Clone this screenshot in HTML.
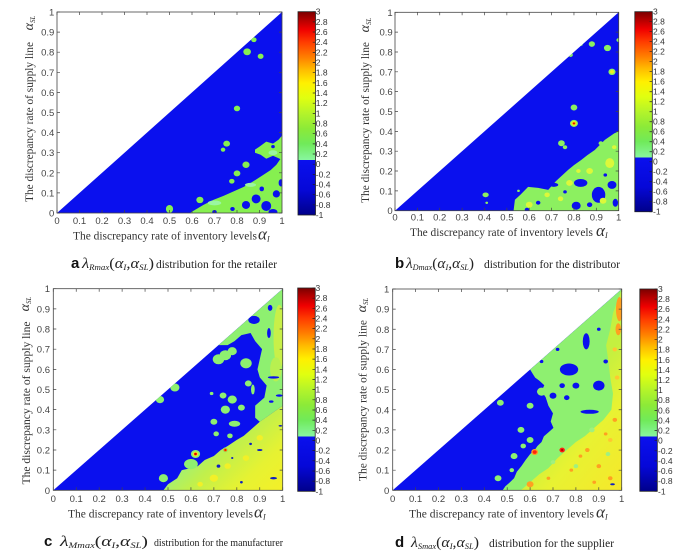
<!DOCTYPE html>
<html><head><meta charset="utf-8"><style>
html,body{margin:0;padding:0;background:#fff;width:692px;height:556px;overflow:hidden}
svg{display:block}
</style></head><body>
<svg width="692" height="556" viewBox="0 0 692 556" xmlns="http://www.w3.org/2000/svg" xmlns:xlink="http://www.w3.org/1999/xlink">
<defs>
<clipPath id="tri"><polygon points="0,0 1000,0 1000,1000"/></clipPath>
<linearGradient id="cb" x1="0" y1="0" x2="0" y2="1">
<stop offset="0" stop-color="#7a0000"/><stop offset="0.0375" stop-color="#b00000"/><stop offset="0.0875" stop-color="#f00000"/>
<stop offset="0.15" stop-color="#ff3c00"/><stop offset="0.225" stop-color="#ff8000"/><stop offset="0.2875" stop-color="#ffbe00"/>
<stop offset="0.35" stop-color="#fff000"/><stop offset="0.425" stop-color="#e0ff10"/><stop offset="0.5" stop-color="#b4f42a"/>
<stop offset="0.575" stop-color="#8cea38"/><stop offset="0.65" stop-color="#70ea5a"/><stop offset="0.73" stop-color="#88f6a0"/>
<stop offset="0.73" stop-color="#0a10ee"/><stop offset="0.875" stop-color="#0608d8"/><stop offset="1" stop-color="#00008a"/>
</linearGradient>
<linearGradient id="gc" gradientUnits="userSpaceOnUse" x1="680" y1="300" x2="1000" y2="0">
<stop offset="0" stop-color="#98f080"/><stop offset="0.3" stop-color="#c0f04c"/><stop offset="0.65" stop-color="#e6f232"/><stop offset="1" stop-color="#f4f028"/>
</linearGradient>
<linearGradient id="gd" gradientUnits="userSpaceOnUse" x1="640" y1="260" x2="1000" y2="0">
<stop offset="0" stop-color="#c4f040"/><stop offset="0.4" stop-color="#e8f232"/><stop offset="1" stop-color="#f6e82a"/>
</linearGradient>
<g id="cbar">
<rect x="0" y="0" width="17.5" height="203.3" fill="url(#cb)" stroke="#222" stroke-width="0.8"/>
<line x1="16" y1="-0.35" x2="16" y2="204" stroke="#222" stroke-width="2.5" stroke-dasharray="0.7 9.465"/>
</g>
<g id="cbl" font-family="Liberation Sans, sans-serif" font-size="8.5" fill="#333">
<text x="0" y="3">3<tspan x="0" dy="10.165">2.8</tspan><tspan x="0" dy="10.165">2.6</tspan><tspan x="0" dy="10.165">2.4</tspan><tspan x="0" dy="10.165">2.2</tspan><tspan x="0" dy="10.165">2</tspan><tspan x="0" dy="10.165">1.8</tspan><tspan x="0" dy="10.165">1.6</tspan><tspan x="0" dy="10.165">1.4</tspan><tspan x="0" dy="10.165">1.2</tspan><tspan x="0" dy="10.165">1</tspan><tspan x="0" dy="10.165">0.8</tspan><tspan x="0" dy="10.165">0.6</tspan><tspan x="0" dy="10.165">0.4</tspan><tspan x="0" dy="10.165">0.2</tspan><tspan x="0" dy="10.165">0</tspan><tspan x="0" dy="10.165">-0.2</tspan><tspan x="0" dy="10.165">-0.4</tspan><tspan x="0" dy="10.165">-0.6</tspan><tspan x="0" dy="10.165">-0.8</tspan><tspan x="0" dy="10.165">-1</tspan></text>
</g>
</defs>

<!-- ============ PANEL A ============ -->
<svg x="57" y="12" width="225" height="201" viewBox="0 0 1000 1000" preserveAspectRatio="none">
<g transform="matrix(1 0 0 -1 0 1000)" clip-path="url(#tri)">
<rect width="1000" height="1000" fill="#0a10ee"/>
<g fill="#86f050">
<polygon points="590,0 620,20 650,40 695,65 740,85 780,105 830,130 870,156 910,185 950,214 975,240 990,264 1000,275 1000,0"/>
<polygon points="880,300 905,290 930,270 960,285 990,270 1000,260 1000,385 985,365 960,345 930,355 900,330 880,315"/>
</g>
<g fill="#9af6a0">
<ellipse cx="700" cy="50" rx="30" ry="12"/><ellipse cx="860" cy="140" rx="25" ry="10"/><ellipse cx="960" cy="300" rx="20" ry="12"/>
</g>
<g fill="#0a10ee">
<ellipse cx="840" cy="40" rx="18" ry="20"/><ellipse cx="885" cy="70" rx="20" ry="22"/><ellipse cx="930" cy="35" rx="22" ry="25"/><ellipse cx="975" cy="95" rx="16" ry="18"/><ellipse cx="960" cy="5" rx="20" ry="15"/><ellipse cx="995" cy="150" rx="10" ry="18"/><ellipse cx="910" cy="120" rx="10" ry="12"/><circle cx="780" cy="20" r="10"/><circle cx="700" cy="5" r="10"/><circle cx="960" cy="330" r="8"/>
</g>
<g fill="#86f050">
<circle cx="754" cy="345" r="15"/><circle cx="738" cy="315" r="10"/><circle cx="840" cy="240" r="16"/><circle cx="800" cy="197" r="15"/><circle cx="777" cy="158" r="12"/><circle cx="635" cy="65" r="16"/><ellipse cx="500" cy="20" rx="16" ry="20"/><circle cx="800" cy="520" r="14"/><circle cx="845" cy="802" r="17"/><circle cx="905" cy="780" r="13"/><circle cx="875" cy="862" r="12"/>
</g>
</g></svg>
<rect x="57" y="12" width="225" height="201" fill="none" stroke="#444" stroke-width="0.8"/>
<g stroke="#444" fill="none">
<line x1="56.65" y1="211.5" x2="282.5" y2="211.5" stroke-width="3" stroke-dasharray="0.7 21.8"/>
<line x1="56.65" y1="13.5" x2="282.5" y2="13.5" stroke-width="3" stroke-dasharray="0.7 21.8"/>
<line x1="58.5" y1="213.35" x2="58.5" y2="11.5" stroke-width="3" stroke-dasharray="0.7 19.4"/>
<line x1="280.5" y1="213.35" x2="280.5" y2="11.5" stroke-width="3" stroke-dasharray="0.7 19.4"/>
</g>
<g font-family="Liberation Sans, sans-serif" font-size="9.5" fill="#444">
<text y="224" text-anchor="middle"><tspan x="57">0</tspan><tspan x="79.5">0.1</tspan><tspan x="102">0.2</tspan><tspan x="124.5">0.3</tspan><tspan x="147">0.4</tspan><tspan x="169.5">0.5</tspan><tspan x="192">0.6</tspan><tspan x="214.5">0.7</tspan><tspan x="237">0.8</tspan><tspan x="259.5">0.9</tspan><tspan x="282">1</tspan></text>
<text text-anchor="end"><tspan x="54.3" y="216.5">0</tspan><tspan x="54.3" y="196.4">0.1</tspan><tspan x="54.3" y="176.3">0.2</tspan><tspan x="54.3" y="156.2">0.3</tspan><tspan x="54.3" y="136.1">0.4</tspan><tspan x="54.3" y="116">0.5</tspan><tspan x="54.3" y="95.9">0.6</tspan><tspan x="54.3" y="75.8">0.7</tspan><tspan x="54.3" y="55.7">0.8</tspan><tspan x="54.3" y="35.6">0.9</tspan><tspan x="54.3" y="15.5">1</tspan></text>
</g>
<use xlink:href="#cbar" transform="translate(298,11.7)"/>
<use xlink:href="#cbl" transform="translate(315.8,11.7)"/>
<g font-family="Liberation Serif, serif" fill="#333">
<text x="73" y="239.5" font-size="11.5" textLength="184" lengthAdjust="spacingAndGlyphs">The discrepancy rate of inventory levels</text>
<text x="258" y="239.5" font-size="17" font-style="italic">α<tspan font-size="8" dy="2">I</tspan></text>
<text transform="translate(33,122) rotate(-90)" text-anchor="middle" font-size="11.5" textLength="160" lengthAdjust="spacingAndGlyphs">The discrepancy rate of supply line</text>
<text transform="translate(33,23) rotate(-90)" text-anchor="middle" font-size="14" font-style="italic">α<tspan font-size="7" dy="2">SL</tspan></text>
</g>
<text x="71" y="268" font-family="Liberation Sans, sans-serif" font-weight="bold" font-size="15" fill="#111">a</text>
<text x="82" y="268" font-family="Liberation Serif, serif" font-style="italic" font-size="15" fill="#222" textLength="72" lengthAdjust="spacingAndGlyphs">λ<tspan font-size="8" dy="2">Rmax</tspan><tspan dy="-2" font-style="normal">(</tspan>α<tspan font-size="8" dy="2">I</tspan><tspan dy="-2" font-style="normal">,</tspan>α<tspan font-size="8" dy="2">SL</tspan><tspan dy="-2" font-style="normal">)</tspan></text>
<text x="156" y="268" font-family="Liberation Serif, serif" font-size="11.5" fill="#222" textLength="121" lengthAdjust="spacingAndGlyphs">distribution for the retailer</text>

<!-- ============ PANEL B ============ -->
<svg x="395" y="12.3" width="223.7" height="198.4" viewBox="0 0 1000 1000" preserveAspectRatio="none">
<g transform="matrix(1 0 0 -1 0 1000)" clip-path="url(#tri)">
<rect width="1000" height="1000" fill="#0a10ee"/>
<polygon fill="#8cf060" points="530,0 536,55 560,80 595,120 640,115 685,105 720,150 774,206 800,230 833,256 860,280 893,306 938,357 980,390 1000,400 1000,0"/>
<g fill="#0a10ee">
<ellipse cx="830" cy="140" rx="30" ry="20"/><ellipse cx="910" cy="80" rx="30" ry="40"/><ellipse cx="970" cy="130" rx="20" ry="20"/><ellipse cx="810" cy="25" rx="20" ry="20"/><ellipse cx="710" cy="130" rx="20" ry="10"/><ellipse cx="985" cy="40" rx="12" ry="20"/><circle cx="640" cy="40" r="10"/><circle cx="870" cy="30" r="12"/><circle cx="590" cy="5" r="10"/><circle cx="760" cy="95" r="8"/><circle cx="940" cy="180" r="8"/>
</g>
<g fill="#dcf83a">
<circle cx="600" cy="30" r="15"/><circle cx="680" cy="80" r="12"/><circle cx="780" cy="140" r="15"/><circle cx="870" cy="200" r="15"/><ellipse cx="960" cy="240" rx="20" ry="25"/><circle cx="930" cy="50" r="15"/><circle cx="740" cy="60" r="12"/><circle cx="820" cy="200" r="10"/><circle cx="980" cy="320" r="10"/>
</g>
<g fill="#8cf060">
<circle cx="800" cy="520" r="15"/><circle cx="800" cy="440" r="18"/><circle cx="970" cy="700" r="16"/><circle cx="950" cy="820" r="16"/><circle cx="880" cy="840" r="14"/><circle cx="830" cy="840" r="10"/><circle cx="785" cy="785" r="10"/><circle cx="1000" cy="860" r="10"/><ellipse cx="405" cy="80" rx="14" ry="12"/><circle cx="410" cy="40" r="6"/><circle cx="744" cy="340" r="15"/><circle cx="920" cy="340" r="10"/><circle cx="552" cy="100" r="6"/><circle cx="760" cy="320" r="10"/>
</g>
<circle cx="800" cy="440" r="12" fill="#f0f020"/><circle cx="800" cy="440" r="7" fill="#ff8000"/><circle cx="800" cy="440" r="4" fill="#d00000"/>
<circle cx="970" cy="700" r="9" fill="#f0f020"/>
</g></svg>
<rect x="395" y="12.3" width="223.7" height="198.4" fill="none" stroke="#444" stroke-width="0.8"/>
<g stroke="#444" fill="none">
<line x1="394.65" y1="209.2" x2="619.2" y2="209.2" stroke-width="3" stroke-dasharray="0.7 21.67"/>
<line x1="394.65" y1="13.8" x2="619.2" y2="13.8" stroke-width="3" stroke-dasharray="0.7 21.67"/>
<line x1="396.5" y1="211.05" x2="396.5" y2="11.8" stroke-width="3" stroke-dasharray="0.7 19.14"/>
<line x1="617.2" y1="211.05" x2="617.2" y2="11.8" stroke-width="3" stroke-dasharray="0.7 19.14"/>
</g>
<g font-family="Liberation Sans, sans-serif" font-size="9.5" fill="#444">
<text y="220.5" text-anchor="middle"><tspan x="395">0</tspan><tspan x="417.4">0.1</tspan><tspan x="439.7">0.2</tspan><tspan x="462.1">0.3</tspan><tspan x="484.5">0.4</tspan><tspan x="506.9">0.5</tspan><tspan x="529.2">0.6</tspan><tspan x="551.6">0.7</tspan><tspan x="574">0.8</tspan><tspan x="596.3">0.9</tspan><tspan x="618.7">1</tspan></text>
<text text-anchor="end"><tspan x="392.7" y="214.2">0</tspan><tspan x="392.7" y="194.4">0.1</tspan><tspan x="392.7" y="174.5">0.2</tspan><tspan x="392.7" y="154.7">0.3</tspan><tspan x="392.7" y="134.8">0.4</tspan><tspan x="392.7" y="115">0.5</tspan><tspan x="392.7" y="95.2">0.6</tspan><tspan x="392.7" y="75.3">0.7</tspan><tspan x="392.7" y="55.5">0.8</tspan><tspan x="392.7" y="35.6">0.9</tspan><tspan x="392.7" y="15.8">1</tspan></text>
</g>
<use xlink:href="#cbar" transform="translate(634.8,11.7) scale(1,0.984)"/>
<use xlink:href="#cbl" transform="translate(653,11.7) scale(1,0.984)"/>
<g font-family="Liberation Serif, serif" fill="#333">
<text x="410" y="236" font-size="11.5" textLength="183" lengthAdjust="spacingAndGlyphs">The discrepancy rate of inventory levels</text>
<text x="596" y="236" font-size="17" font-style="italic">α<tspan font-size="8" dy="2">I</tspan></text>
<text transform="translate(369,122.5) rotate(-90)" text-anchor="middle" font-size="11.5" textLength="161" lengthAdjust="spacingAndGlyphs">The discrepancy rate of supply line</text>
<text transform="translate(369,25) rotate(-90)" text-anchor="middle" font-size="14" font-style="italic">α<tspan font-size="7" dy="2">SL</tspan></text>
</g>
<text x="395" y="268" font-family="Liberation Sans, sans-serif" font-weight="bold" font-size="15" fill="#111">b</text>
<text x="406" y="268" font-family="Liberation Serif, serif" font-style="italic" font-size="15" fill="#222" textLength="68" lengthAdjust="spacingAndGlyphs">λ<tspan font-size="8" dy="2">Dmax</tspan><tspan dy="-2" font-style="normal">(</tspan>α<tspan font-size="8" dy="2">I</tspan><tspan dy="-2" font-style="normal">,</tspan>α<tspan font-size="8" dy="2">SL</tspan><tspan dy="-2" font-style="normal">)</tspan></text>
<text x="484" y="268" font-family="Liberation Serif, serif" font-size="11.5" fill="#222" textLength="136" lengthAdjust="spacingAndGlyphs">distribution for the distributor</text>

<!-- ============ PANEL C ============ -->
<svg x="53.3" y="288.7" width="229.4" height="201.6" viewBox="0 0 1000 1000" preserveAspectRatio="none">
<g transform="matrix(1 0 0 -1 0 1000)" clip-path="url(#tri)">
<rect width="1000" height="1000" fill="#0a10ee"/>
<polygon fill="#8ef070" points="1000,420 950,380 900,340 880,360 880,420 920,460 930,520 900,560 890,600 900,650 910,700 880,740 860,780 820,770 790,740 760,720 720,720 1000,1000"/>
<polygon fill="url(#gc)" points="480,0 500,30 540,60 560,100 600,110 630,120 660,150 700,170 730,200 760,220 800,250 830,270 860,300 900,340 950,380 1000,420 1000,0"/>
<ellipse cx="985" cy="760" rx="25" ry="160" fill="#c8f048"/>
<ellipse cx="970" cy="600" rx="25" ry="60" fill="#b8f050"/>
<g fill="#f2f028">
<circle cx="700" cy="60" r="18"/><circle cx="760" cy="120" r="14"/><circle cx="840" cy="160" r="14"/><circle cx="900" cy="260" r="14"/><circle cx="640" cy="30" r="12"/>
</g>
<g fill="#0a10ee">
<ellipse cx="875" cy="845" rx="25" ry="20"/><ellipse cx="945" cy="905" rx="10" ry="15"/><ellipse cx="940" cy="780" rx="8" ry="25"/><ellipse cx="960" cy="560" rx="25" ry="6"/><ellipse cx="985" cy="470" rx="15" ry="6"/><ellipse cx="950" cy="440" rx="10" ry="6"/>
</g>
<g fill="#1020c0">
<circle cx="720" cy="120" r="8"/><ellipse cx="900" cy="200" rx="12" ry="5"/><ellipse cx="960" cy="60" rx="15" ry="6"/><circle cx="820" cy="40" r="6"/><circle cx="780" cy="160" r="5"/><circle cx="860" cy="230" r="6"/><ellipse cx="990" cy="320" rx="8" ry="4"/>
</g>
<g fill="#8ef070">
<circle cx="750" cy="670" r="25"/><circle cx="840" cy="630" r="25"/><circle cx="850" cy="530" r="15"/><circle cx="740" cy="470" r="15"/><circle cx="780" cy="450" r="20"/><ellipse cx="870" cy="500" rx="8" ry="25"/><circle cx="750" cy="400" r="20"/><circle cx="820" cy="410" r="15"/><ellipse cx="790" cy="330" rx="25" ry="15"/><circle cx="700" cy="340" r="15"/><circle cx="710" cy="280" r="12"/><circle cx="770" cy="270" r="12"/><circle cx="620" cy="180" r="20"/><circle cx="750" cy="200" r="12"/><ellipse cx="600" cy="130" rx="30" ry="25"/><circle cx="480" cy="60" r="20"/><circle cx="530" cy="510" r="20"/><circle cx="465" cy="450" r="18"/><circle cx="690" cy="480" r="8"/><circle cx="720" cy="650" r="25"/><circle cx="780" cy="690" r="20"/>
</g>
<circle cx="620" cy="180" r="12" fill="#f0f020"/><circle cx="620" cy="180" r="7" fill="#ff2000"/><circle cx="620" cy="180" r="3" fill="#a00000"/>
<circle cx="750" cy="200" r="8" fill="#ff8000"/><circle cx="750" cy="200" r="4" fill="#e00000"/>
</g></svg>
<rect x="53.3" y="288.7" width="229.4" height="201.6" fill="none" stroke="#444" stroke-width="0.8"/>
<g stroke="#444" fill="none">
<line x1="52.95" y1="488.8" x2="283.2" y2="488.8" stroke-width="3" stroke-dasharray="0.7 22.24"/>
<line x1="52.95" y1="290.2" x2="283.2" y2="290.2" stroke-width="3" stroke-dasharray="0.7 22.24"/>
<line x1="54.8" y1="490.65" x2="54.8" y2="288.2" stroke-width="3" stroke-dasharray="0.7 19.46"/>
<line x1="281.2" y1="490.65" x2="281.2" y2="288.2" stroke-width="3" stroke-dasharray="0.7 19.46"/>
</g>
<g font-family="Liberation Sans, sans-serif" font-size="9.5" fill="#444">
<text y="502" text-anchor="middle"><tspan x="53.3">0</tspan><tspan x="76.2">0.1</tspan><tspan x="99.2">0.2</tspan><tspan x="122.1">0.3</tspan><tspan x="145.1">0.4</tspan><tspan x="168">0.5</tspan><tspan x="191">0.6</tspan><tspan x="213.9">0.7</tspan><tspan x="236.8">0.8</tspan><tspan x="259.8">0.9</tspan><tspan x="282.7">1</tspan></text>
<text text-anchor="end"><tspan x="50" y="493.8">0</tspan><tspan x="50" y="473.6">0.1</tspan><tspan x="50" y="453.5">0.2</tspan><tspan x="50" y="433.3">0.3</tspan><tspan x="50" y="413.2">0.4</tspan><tspan x="50" y="393">0.5</tspan><tspan x="50" y="372.8">0.6</tspan><tspan x="50" y="352.7">0.7</tspan><tspan x="50" y="332.5">0.8</tspan><tspan x="50" y="312.4">0.9</tspan><tspan x="50" y="292.2">1</tspan></text>
</g>
<use xlink:href="#cbar" transform="translate(297.7,288)"/>
<use xlink:href="#cbl" transform="translate(315.5,288)"/>
<g font-family="Liberation Serif, serif" fill="#333">
<text x="68" y="517.5" font-size="11.5" textLength="185" lengthAdjust="spacingAndGlyphs">The discrepancy rate of inventory levels</text>
<text x="254" y="517.5" font-size="17" font-style="italic">α<tspan font-size="8" dy="2">I</tspan></text>
<text transform="translate(30,403) rotate(-90)" text-anchor="middle" font-size="11.5" textLength="163" lengthAdjust="spacingAndGlyphs">The discrepancy rate of supply line</text>
<text transform="translate(29,304) rotate(-90)" text-anchor="middle" font-size="14" font-style="italic">α<tspan font-size="7" dy="2">SL</tspan></text>
</g>
<text x="44" y="546" font-family="Liberation Sans, sans-serif" font-weight="bold" font-size="15" fill="#111">c</text>
<text x="60" y="546" font-family="Liberation Serif, serif" font-style="italic" font-size="15" fill="#222" textLength="88" lengthAdjust="spacingAndGlyphs">λ<tspan font-size="8" dy="2">Mmax</tspan><tspan dy="-2" font-style="normal">(</tspan>α<tspan font-size="8" dy="2">I</tspan><tspan dy="-2" font-style="normal">,</tspan>α<tspan font-size="8" dy="2">SL</tspan><tspan dy="-2" font-style="normal">)</tspan></text>
<text x="154" y="546" font-family="Liberation Serif, serif" font-size="10.5" fill="#222" textLength="129" lengthAdjust="spacingAndGlyphs">distribution for the manufacturer</text>

<!-- ============ PANEL D ============ -->
<svg x="392.7" y="289" width="229" height="201.3" viewBox="0 0 1000 1000" preserveAspectRatio="none">
<g transform="matrix(1 0 0 -1 0 1000)" clip-path="url(#tri)">
<rect width="1000" height="1000" fill="#0a10ee"/>
<polygon fill="#8ef070" points="600,600 612,578 622,560 640,545 662,522 650,492 668,462 680,420 700,382 690,342 702,310 680,288 660,268 650,240 632,220 620,200 600,180 580,150 562,120 542,92 530,60 512,40 492,20 480,0 1000,0 1000,1000"/>
<polygon fill="url(#gd)" points="560,0 600,40 640,80 680,110 720,160 760,200 800,240 840,270 880,310 920,350 955,400 962,480 950,560 942,640 932,720 950,800 962,880 985,950 1000,1000 1000,0"/>
<g fill="#0a10ee">
<ellipse cx="770" cy="600" rx="40" ry="30"/><ellipse cx="845" cy="740" rx="15" ry="40"/><ellipse cx="900" cy="520" rx="25" ry="25"/><ellipse cx="860" cy="390" rx="40" ry="10"/><circle cx="700" cy="470" r="15"/><circle cx="760" cy="460" r="12"/><circle cx="720" cy="700" r="8"/><circle cx="650" cy="640" r="8"/><circle cx="800" cy="520" r="15"/><circle cx="740" cy="520" r="12"/><circle cx="930" cy="640" r="10"/><circle cx="900" cy="800" r="8"/>
</g>
<g fill="#8ef070">
<circle cx="650" cy="490" r="20"/><circle cx="470" cy="435" r="15"/><circle cx="600" cy="420" r="15"/><circle cx="560" cy="300" r="15"/><circle cx="600" cy="250" r="15"/><circle cx="530" cy="170" r="15"/><circle cx="460" cy="60" r="15"/><circle cx="520" cy="100" r="10"/><circle cx="570" cy="220" r="12"/>
</g>
<g fill="#a0f080">
<circle cx="800" cy="120" r="10"/><circle cx="700" cy="140" r="10"/><circle cx="940" cy="180" r="10"/><circle cx="870" cy="300" r="12"/>
</g>
<g fill="#ffa020">
<circle cx="620" cy="190" r="15"/><circle cx="600" cy="30" r="15"/><circle cx="850" cy="200" r="10"/><circle cx="900" cy="120" r="10"/><circle cx="950" cy="60" r="10"/><circle cx="970" cy="350" r="10"/><ellipse cx="990" cy="900" rx="15" ry="60"/><ellipse cx="985" cy="800" rx="12" ry="30"/><circle cx="780" cy="100" r="8"/><circle cx="680" cy="60" r="8"/><circle cx="880" cy="40" r="8"/><circle cx="820" cy="170" r="8"/><circle cx="930" cy="280" r="8"/>
</g>
<g fill="#ffc830"><circle cx="970" cy="700" r="10"/><circle cx="950" cy="250" r="10"/><circle cx="980" cy="560" r="10"/></g>
<circle cx="620" cy="190" r="9" fill="#ff2010"/>
<circle cx="740" cy="200" r="12" fill="#ff2010"/><circle cx="740" cy="200" r="5" fill="#b00000"/>
<ellipse cx="960" cy="30" rx="10" ry="5" fill="#1020c0"/>
</g></svg>
<rect x="392.7" y="289" width="229" height="201.3" fill="none" stroke="#444" stroke-width="0.8"/>
<g stroke="#444" fill="none">
<line x1="392.35" y1="488.8" x2="622.2" y2="488.8" stroke-width="3" stroke-dasharray="0.7 22.2"/>
<line x1="392.35" y1="290.5" x2="622.2" y2="290.5" stroke-width="3" stroke-dasharray="0.7 22.2"/>
<line x1="394.2" y1="490.65" x2="394.2" y2="288.5" stroke-width="3" stroke-dasharray="0.7 19.43"/>
<line x1="620.2" y1="490.65" x2="620.2" y2="288.5" stroke-width="3" stroke-dasharray="0.7 19.43"/>
</g>
<g font-family="Liberation Sans, sans-serif" font-size="9.5" fill="#444">
<text y="502" text-anchor="middle"><tspan x="392.7">0</tspan><tspan x="415.6">0.1</tspan><tspan x="438.5">0.2</tspan><tspan x="461.4">0.3</tspan><tspan x="484.3">0.4</tspan><tspan x="507.2">0.5</tspan><tspan x="530.1">0.6</tspan><tspan x="553">0.7</tspan><tspan x="575.9">0.8</tspan><tspan x="598.8">0.9</tspan><tspan x="621.7">1</tspan></text>
<text text-anchor="end"><tspan x="389.3" y="493.8">0</tspan><tspan x="389.3" y="473.7">0.1</tspan><tspan x="389.3" y="453.5">0.2</tspan><tspan x="389.3" y="433.4">0.3</tspan><tspan x="389.3" y="413.3">0.4</tspan><tspan x="389.3" y="393.2">0.5</tspan><tspan x="389.3" y="373">0.6</tspan><tspan x="389.3" y="352.9">0.7</tspan><tspan x="389.3" y="332.8">0.8</tspan><tspan x="389.3" y="312.6">0.9</tspan><tspan x="389.3" y="292.5">1</tspan></text>
</g>
<use xlink:href="#cbar" transform="translate(639.8,289) scale(1,0.995)"/>
<use xlink:href="#cbl" transform="translate(658,289) scale(1,0.995)"/>
<g font-family="Liberation Serif, serif" fill="#333">
<text x="409" y="517.5" font-size="11.5" textLength="185" lengthAdjust="spacingAndGlyphs">The discrepancy rate of inventory levels</text>
<text x="596" y="517.5" font-size="17" font-style="italic">α<tspan font-size="8" dy="2">I</tspan></text>
<text transform="translate(366.5,400.5) rotate(-90)" text-anchor="middle" font-size="11.5" textLength="161" lengthAdjust="spacingAndGlyphs">The discrepancy rate of supply line</text>
<text transform="translate(366,305) rotate(-90)" text-anchor="middle" font-size="14" font-style="italic">α<tspan font-size="7" dy="2">SL</tspan></text>
</g>
<text x="395" y="547" font-family="Liberation Sans, sans-serif" font-weight="bold" font-size="15" fill="#111">d</text>
<text x="411" y="547" font-family="Liberation Serif, serif" font-style="italic" font-size="15" fill="#222" textLength="68" lengthAdjust="spacingAndGlyphs">λ<tspan font-size="8" dy="2">Smax</tspan><tspan dy="-2" font-style="normal">(</tspan>α<tspan font-size="8" dy="2">I</tspan><tspan dy="-2" font-style="normal">,</tspan>α<tspan font-size="8" dy="2">SL</tspan><tspan dy="-2" font-style="normal">)</tspan></text>
<text x="489" y="547" font-family="Liberation Serif, serif" font-size="11.5" fill="#222" textLength="125" lengthAdjust="spacingAndGlyphs">distribution for the supplier</text>
</svg>
</body></html>
